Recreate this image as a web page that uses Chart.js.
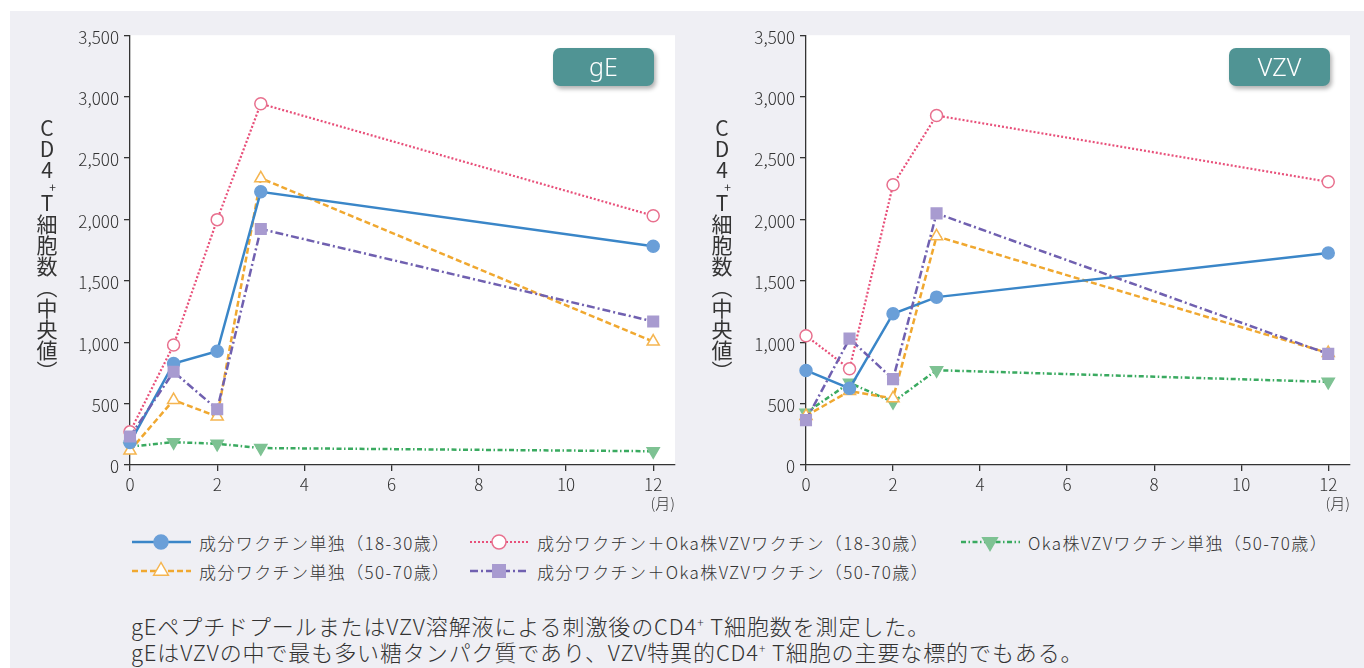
<!DOCTYPE html>
<html lang="ja">
<head>
<meta charset="utf-8">
<title>CD4+ T細胞数（中央値）</title>
<script src="https://cdn.jsdelivr.net/npm/chart.js@4.4.1/dist/chart.umd.min.js"></script>
<style>
  html, body { margin: 0; padding: 0; background: #fff; }
  body {
    width: 1364px; height: 668px; position: relative; overflow: hidden;
    font-family: "Noto Sans CJK JP", "Noto Sans", sans-serif; font-weight: 300; color: #333;
  }
  #panel { position: absolute; left: 10px; top: 11px; right: 0; bottom: 0; background: #efeff4; }
  .chartBox { position: absolute; top: 20px; height: 500px; }
  .ytitle {
    position: absolute; top: 118px; width: 24px;
    writing-mode: vertical-rl; text-orientation: upright;
    font-size: 21px; line-height: 24px; font-weight: 400; color: #333;
  }
  .ytitle .sup { font-size: 12px; position: relative; left: 5px; }
  .badge {
    position: absolute; top: 48px; width: 101px; height: 38px;
    background: #509494; border-radius: 7px; color: #fff;
    box-shadow: 2px 3px 4px rgba(0, 0, 0, 0.3);
    font-family: "Noto Sans", sans-serif; font-size: 25px; line-height: 37px; text-align: center;
  }
  .legendItem {
    position: absolute; height: 22px; display: flex; align-items: center;
    font-size: 17px; letter-spacing: 1.4px; white-space: nowrap;
  }
  .legendItem svg { margin-right: 8px; }
  .caption {
    position: absolute; left: 131px; top: 612px;
    font-size: 22px; letter-spacing: 0.9px; line-height: 26px; white-space: nowrap;
  }
  .caption sup { font-size: 12px; vertical-align: 8px; line-height: 0; }
</style>
</head>
<body>
<div id="panel"></div>

<div class="chartBox" style="left:60px;width:630px;"><canvas id="chartGE"></canvas></div>
<div class="chartBox" style="left:736px;width:628px;"><canvas id="chartVZV"></canvas></div>

<div class="ytitle" style="left:35px;">CD4<span class="sup">+</span>T細胞数（中央値）</div>
<div class="ytitle" style="left:710px;">CD4<span class="sup">+</span>T細胞数（中央値）</div>

<div class="badge" style="left:553px;">gE</div>
<div class="badge" style="left:1229px;">VZV</div>

<div id="legend"></div>

<div class="caption">
  gEペプチドプールまたはVZV溶解液による刺激後のCD4<sup>+</sup> T細胞数を測定した。<br>
  gEはVZVの中で最も多い糖タンパク質であり、VZV特異的CD4<sup>+</sup> T細胞の主要な標的でもある。
</div>

<script>
// Data: months after vaccination
const months = [0, 1, 2, 3, 12];
const xTicks = [0, 2, 4, 6, 8, 10, 12];
const yTicks = [0, 500, 1000, 1500, 2000, 2500, 3000, 3500];

const seriesNames = [
  "成分ワクチン単独（18-30歳）",
  "成分ワクチン＋Oka株VZVワクチン（18-30歳）",
  "Oka株VZVワクチン単独（50-70歳）",
  "成分ワクチン単独（50-70歳）",
  "成分ワクチン＋Oka株VZVワクチン（50-70歳）",
];

// gE stimulation
const gESubunit1830 = [183, 826, 926, 2225, 1781];
const gECombo1830 = [270, 977, 1998, 2942, 2030];
const gEOka5070 = [150, 186, 173, 138, 112];
const gESubunit5070 = [118, 529, 394, 2335, 1005];
const gECombo5070 = [232, 759, 454, 1922, 1169];

// VZV lysate stimulation
const vzvSubunit1830 = [770, 624, 1232, 1367, 1727];
const vzvCombo1830 = [1053, 783, 2282, 2846, 2306];
const vzvOka5070 = [426, 669, 513, 772, 677];
const vzvSubunit5070 = [400, 602, 543, 1862, 912];
const vzvCombo5070 = [365, 1029, 699, 2049, 905];

// Line / marker styles per series (same order as seriesNames)
const seriesStyles = [
  { line: "#3a86c8", width: 2.5, dash: [], point: "circle", radius: 6, fill: "#6a9fd8", border: "#6a9fd8", rot: 0 },
  { line: "#e8507a", width: 2.2, dash: [2, 2], point: "circle", radius: 6, fill: "#fff", border: "#e8708e", rot: 0 },
  { line: "#3aaa60", width: 2.5, dash: [5, 2.5, 1.5, 2.5], point: "triangle", radius: 7, fill: "#7ec293", border: "#7ec293", rot: 180 },
  { line: "#f0a830", width: 2.5, dash: [6, 3], point: "triangle", radius: 7, fill: "#fff", border: "#f5b550", rot: 0 },
  { line: "#7060b0", width: 2.5, dash: [8, 3, 2, 3], point: "rect", radius: 7.5, fill: "#a89bd0", border: "#a89bd0", rot: 0 },
];

const tickFont = { family: "Noto Sans CJK JP", size: 17, weight: 300 };

// White plot area behind the lines
const plotBackground = {
  id: "plotBackground",
  beforeDraw(chart) {
    const { ctx, chartArea: a } = chart;
    ctx.save();
    ctx.fillStyle = "#fff";
    ctx.fillRect(a.left, a.top, a.right - a.left, a.bottom - a.top);
    ctx.restore();
  },
};

function makeDataset(i, values) {
  const s = seriesStyles[i];
  return {
    label: seriesNames[i],
    data: months.map((m, k) => ({ x: m, y: values[k] })),
    borderColor: s.line,
    borderWidth: s.width,
    borderDash: s.dash,
    pointStyle: s.point,
    pointRadius: s.radius,
    pointRotation: s.rot,
    pointBackgroundColor: s.fill,
    pointBorderColor: s.border,
    pointBorderWidth: 1.5,
    tension: 0,
    clip: false,
  };
}

function buildChart(canvasId, seriesValues, rightPad) {
  // draw order: first dataset ends up on top
  const order = [4, 0, 3, 1, 2];
  return new Chart(document.getElementById(canvasId), {
    type: "line",
    data: { datasets: order.map((i) => makeDataset(i, seriesValues[i])) },
    options: {
      responsive: true,
      maintainAspectRatio: false,
      animation: false,
      layout: { padding: { top: 14, right: rightPad, left: 0, bottom: 0 } },
      plugins: { legend: { display: false }, tooltip: { enabled: false } },
      scales: {
        x: {
          type: "linear",
          min: 0,
          max: 12.5,
          afterFit(scale) { scale.height = 55; },
          afterBuildTicks(scale) { scale.ticks = xTicks.map((v) => ({ value: v })); },
          ticks: { font: tickFont, color: "#333", padding: 3, maxRotation: 0 },
          grid: { drawOnChartArea: false, drawTicks: true, tickLength: 6, color: "#333", lineWidth: 1.3 },
          border: { display: true, color: "#333", width: 1.3 },
          title: {
            display: true, text: "(月)", align: "end", color: "#333",
            font: { family: "Noto Sans CJK JP", size: 15, weight: 300 }, padding: { top: 0, bottom: 8 },
          },
        },
        y: {
          min: 0,
          max: 3500,
          afterFit(scale) { scale.width = 70; },
          afterBuildTicks(scale) { scale.ticks = yTicks.map((v) => ({ value: v })); },
          ticks: { font: tickFont, color: "#333", padding: 5, labelOffset: 2, callback: (v) => v.toLocaleString("en-US") },
          grid: { drawOnChartArea: false, drawTicks: true, tickLength: 6, color: "#333", lineWidth: 1.3 },
          border: { display: true, color: "#333", width: 1.3 },
        },
      },
    },
    plugins: [plotBackground],
  });
}

buildChart("chartGE", [gESubunit1830, gECombo1830, gEOka5070, gESubunit5070, gECombo5070], 15);
buildChart("chartVZV", [vzvSubunit1830, vzvCombo1830, vzvOka5070, vzvSubunit5070, vzvCombo5070], 14);

// HTML legend with small SVG line samples
const legendPos = [
  { x: 132, y: 531 },
  { x: 470, y: 531 },
  { x: 961, y: 531 },
  { x: 132, y: 560 },
  { x: 470, y: 560 },
];

function markerSVG(s) {
  const c = 29, m = 11;
  if (s.point === "circle") {
    return `<circle cx="${c}" cy="${m}" r="7" fill="${s.fill}" stroke="${s.border}" stroke-width="1.5"/>`;
  }
  if (s.point === "rect") {
    return `<rect x="${c - 7}" y="${m - 7}" width="14" height="14" fill="${s.fill}"/>`;
  }
  const r = 8.5;
  const h = s.rot ? -1 : 1;
  const pts = [
    [c, m - h * r],
    [c - r * 0.866, m + h * r * 0.5],
    [c + r * 0.866, m + h * r * 0.5],
  ].map((p) => p.join(",")).join(" ");
  return `<polygon points="${pts}" fill="${s.fill}" stroke="${s.border}" stroke-width="1.5"/>`;
}

const legend = document.getElementById("legend");
seriesNames.forEach((name, i) => {
  const s = seriesStyles[i];
  const item = document.createElement("div");
  item.className = "legendItem";
  item.style.left = legendPos[i].x + "px";
  item.style.top = legendPos[i].y + "px";
  item.innerHTML = `
    <svg width="59" height="22" viewBox="0 0 59 22">
      <line x1="0" y1="11" x2="59" y2="11" stroke="${s.line}" stroke-width="${s.width}" stroke-dasharray="${s.dash.join(" ") || "none"}"/>
      ${markerSVG(s)}
    </svg>
    <span>${name}</span>`;
  legend.appendChild(item);
});
</script>
</body>
</html>
